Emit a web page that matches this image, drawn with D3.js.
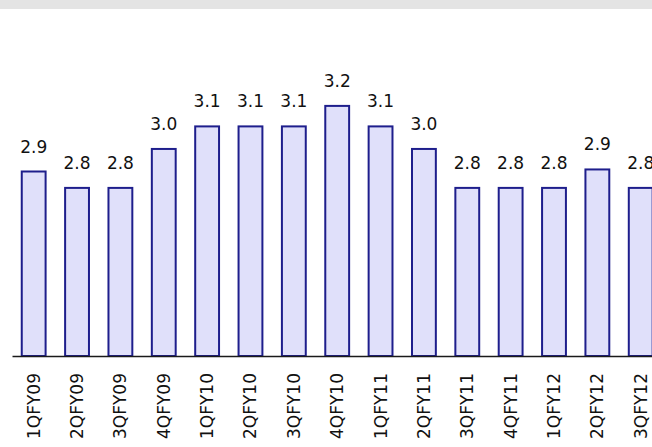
<!DOCTYPE html>
<html>
<head>
<meta charset="utf-8">
<script src="https://cdn.jsdelivr.net/npm/d3@7"></script>
<style>
  body { margin: 0; background: #fff; }
  .bar { fill: #e0e0fa; stroke: #1e1e8c; stroke-width: 2; }
  .val { font-family: "DejaVu Sans", Verdana, sans-serif; font-size: 17px; fill: #111; }
  .x-axis text { font-family: "DejaVu Sans", Verdana, sans-serif; font-size: 17px; fill: #111; }
  .x-axis path { stroke: #1a1a1a; stroke-width: 1.5; }
</style>
</head>
<body>
<div id="chart"></div>
<script>
// chart size
const width = 652;
const height = 447;

// data
const quarters = ["1QFY09", "2QFY09", "3QFY09", "4QFY09", "1QFY10", "2QFY10", "3QFY10", "4QFY10",
                  "1QFY11", "2QFY11", "3QFY11", "4QFY11", "1QFY12", "2QFY12", "3QFY12"];
const values = [2.9, 2.82, 2.82, 3.01, 3.12, 3.12, 3.12, 3.22, 3.12, 3.01, 2.82, 2.82, 2.82, 2.91, 2.82];
const labels = ["2.9", "2.8", "2.8", "3.0", "3.1", "3.1", "3.1", "3.2", "3.1", "3.0", "2.8", "2.8", "2.8", "2.9", "2.8"];

const baseY = 356;

var svg = d3.select("#chart")
    .append("svg")
    .attr("width", width)
    .attr("height", height);

// grey strip along the top
svg.append("rect")
    .attr("x", 0).attr("y", 0)
    .attr("width", width).attr("height", 9)
    .attr("fill", "#e4e4e4");

var x = d3.scaleBand()
    .domain(quarters)
    .range([12, 12 + quarters.length * 43.36])
    .paddingInner(0.45)
    .paddingOuter(0.225);

var y = d3.scaleLinear()
    .domain([2.0, 3.5])
    .range([baseY, baseY - 1.5 * 205]);

// bars
svg.selectAll(".bar")
    .data(values)
    .enter().append("rect")
    .attr("class", "bar")
    .attr("x", (d, i) => x(quarters[i]))
    .attr("y", d => y(d))
    .attr("width", x.bandwidth())
    .attr("height", d => baseY - y(d));

// value labels
svg.selectAll(".val")
    .data(values)
    .enter().append("text")
    .attr("class", "val")
    .attr("text-anchor", "middle")
    .attr("x", (d, i) => x(quarters[i]) + x.bandwidth() / 2)
    .attr("y", d => y(d) - 19)
    .text((d, i) => labels[i]);

// x axis with rotated labels
var xAxis = svg.append("g")
    .attr("class", "x-axis")
    .attr("transform", "translate(0," + baseY + ")")
    .call(d3.axisBottom(x).tickSize(0).tickSizeOuter(0));

xAxis.selectAll(".tick text")
    .attr("transform", "rotate(-90)")
    .attr("text-anchor", "end")
    .attr("x", -17)
    .attr("y", 0)
    .attr("dy", "0.35em");
</script>
</body>
</html>
